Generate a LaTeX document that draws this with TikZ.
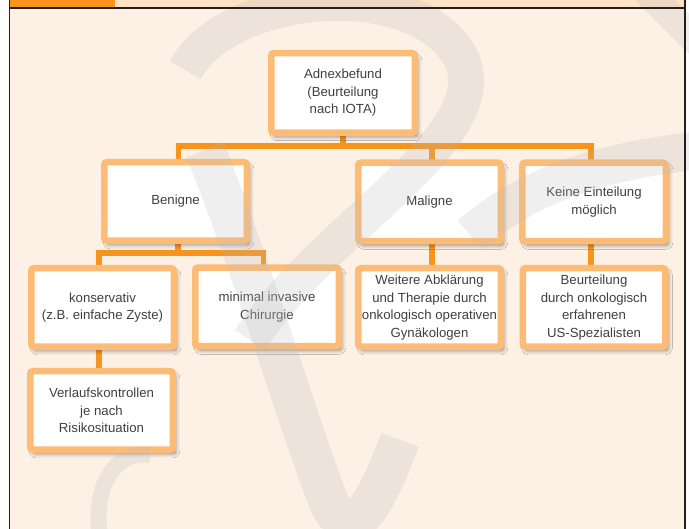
\documentclass[tikz,border=0pt]{standalone}
\usepackage{fontspec}
\setmainfont{Liberation Sans}
\usetikzlibrary{shadows.blur,calc}
\definecolor{bgpeach}{RGB}{253,240,228}
\definecolor{headpeach}{RGB}{253,226,198}
\definecolor{headorange}{RGB}{247,148,29}
\definecolor{connorange}{RGB}{247,148,29}
\definecolor{boxorange}{RGB}{253,188,118}
\definecolor{textgray}{RGB}{64,64,64}
\definecolor{framecol}{RGB}{35,31,32}
\definecolor{wmgray}{RGB}{185,185,185}
\tikzset{
  box/.style={draw=boxorange, line width=6.5pt, fill=white, rounded corners=2.5pt,
    minimum width=142.5pt, minimum height=78.5pt, inner sep=2pt, align=center,
    font=\fontsize{13.2}{17.5}\selectfont, text=textgray,
    blur shadow={shadow xshift=3pt, shadow yshift=-4pt, shadow opacity=45, shadow blur radius=4pt}},
  conn/.style={draw=connorange, line width=5.5pt},
  wm/.style={draw=wmgray, opacity=0.22, line cap=butt}
}
\begin{document}
\begin{tikzpicture}[x=1pt,y=-1pt]
\useasboundingbox (0,0) rectangle (689,529);
\fill[white] (0,0) rectangle (689,529);
\fill[bgpeach] (9.5,0) rectangle (685,529);
\fill[headpeach] (115,0) rectangle (685,8);
\fill[headorange] (9.5,0) rectangle (115,8);

% junction coordinates
\coordinate (j1) at (343,146);
\coordinate (j2) at (178,253);

% connectors first (boxes cover their ends)
\path
  coordinate (pA) at (343,93)
  coordinate (pBen) at (175.5,201.5)
  coordinate (pMal) at (429.5,202)
  coordinate (pKei) at (594,202)
  coordinate (pKon) at (102.5,307.5)
  coordinate (pMin) at (267,307)
  coordinate (pWei) at (429.5,307.5)
  coordinate (pBeu) at (594,307.5)
  coordinate (pVer) at (101.5,410.5);
\draw[conn] (pA) -- (pA |- j1);
\draw[conn] ([xshift=3pt]pBen) |- (j1) -| ([xshift=-3pt]pKei);
\draw[conn] ([xshift=2.5pt]pMal) -- ([xshift=2.5pt]pMal |- j1);
\draw[conn] ([xshift=2.5pt]pBen) -- ([xshift=2.5pt]pBen |- j2);
\draw[conn] ([xshift=-3.5pt]pKon) |- (j2) -| ([xshift=-3.5pt]pMin);
\draw[conn] ([xshift=-3.5pt]pKon) -- ([xshift=-3.5pt]pKon |- pVer);
\draw[conn] ([xshift=2.5pt]pMal) -- ([xshift=2.5pt]pWei);
\draw[conn] ([xshift=-3pt]pKei) -- ([xshift=-3pt]pBeu);

% boxes
\node[box, minimum width=143.5pt, minimum height=79.5pt] (A) at (pA) {Adnexbefund\\(Beurteilung\\nach IOTA)};
\node[box] (Ben) at (pBen) {Benigne};
\node[box] (Mal) at (pMal) {Maligne};
\node[box, minimum width=143.5pt] (Kei) at (pKei) {Keine Einteilung\\möglich};
\node[box] (Kon) at (pKon) {konservativ\\(z.B. einfache Zyste)};
\node[box, minimum width=143.5pt] (Min) at (pMin) {minimal invasive\\Chirurgie};
\node[box] (Wei) at (pWei) {Weitere Abklärung\\und Therapie durch\\onkologisch operativen\\Gynäkologen};
\node[box] (Beu) at (pBeu) {Beurteilung\\durch onkologisch\\erfahrenen\\US-Spezialisten};
\node[box] (Ver) at (pVer) {Verlaufskontrollen\\je nach\\Risikosituation};

% watermark (rough)
\draw[wm, line width=36pt] (185,70) .. controls (230,-10) and (420,-25) .. (462,60)
   .. controls (495,140) and (320,230) .. (250,340);
\draw[wm, line width=40pt] (205,150) .. controls (250,260) and (300,430) .. (330,505)
   .. controls (350,540) and (370,520) .. (400,440);
\draw[wm, line width=38pt] (470,235) .. controls (540,175) and (620,160) .. (700,150);
\draw[wm, line width=16pt] (100,535) .. controls (92,480) and (120,450) .. (150,455);
\draw[wm, line width=28pt] (640,-15) -- (700,45);

% frame
\draw[framecol, line width=1.2pt] (9.5,0) -- (9.5,529);
\draw[framecol, line width=1.2pt] (685,0) -- (685,529);
\draw[framecol, line width=1.2pt] (9.5,8) -- (685,8);
\end{tikzpicture}
\end{document}
